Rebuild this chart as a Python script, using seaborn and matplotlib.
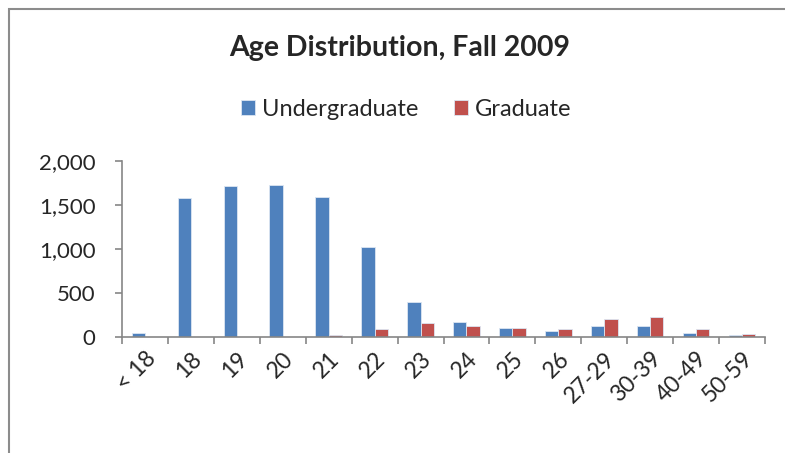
import pandas as pd
import matplotlib.pyplot as plt
import seaborn as sns
from matplotlib.patches import Rectangle
from matplotlib.ticker import FuncFormatter

# Datos
grupos = ['< 18', '18', '19', '20', '21', '22', '23', '24', '25', '26',
          '27-29', '30-39', '40-49', '50-59']
undergrad = [45, 1576, 1720, 1727, 1595, 1027, 394, 170, 99, 68, 128, 128, 45, 19]
graduate = [0, 0, 0, 0, 20, 91, 155, 128, 106, 91, 205, 231, 91, 34]

data = pd.DataFrame({
    'Edad': grupos * 2,
    'Alumnos': undergrad + graduate,
    'Nivel': ['Undergraduate'] * len(grupos) + ['Graduate'] * len(grupos),
})

sns.set_style('white')
plt.rcParams['font.family'] = ['Lato', 'DejaVu Sans']

fig = plt.figure(figsize=(7.85, 4.53), dpi=100)
ax = fig.add_axes([122 / 785, 1 - 337 / 453, (765 - 122) / 785, (337 - 161) / 453])

sns.barplot(x='Edad', y='Alumnos', hue='Nivel', data=data, ax=ax,
            palette=['#4F81BD', '#C0504D'], width=0.58,
            edgecolor='#dce6f2', linewidth=0.6, saturation=1)

ax.set_ylim(0, 2000)
ax.set_yticks([0, 500, 1000, 1500, 2000])
ax.yaxis.set_major_formatter(FuncFormatter(lambda v, p: f'{int(v):,}'))
ax.set_xlim(-0.5, len(grupos) - 0.5)
ax.set_xlabel('')
ax.set_ylabel('')

# ticks entre categorias
ax.set_xticks([i - 0.5 for i in range(len(grupos) + 1)], minor=True)
ax.tick_params(axis='x', which='minor', length=5, width=1.2, color='#868686', direction='out', bottom=True)
ax.tick_params(axis='x', which='major', length=0, labelsize=16.5, pad=8)
ax.tick_params(axis='y', length=5, width=1.2, color='#868686', direction='out', left=True,
               labelsize=16, pad=14)
plt.setp(ax.get_xticklabels(), rotation=45, ha='right', rotation_mode='anchor')

for lado in ['top', 'right']:
    ax.spines[lado].set_visible(False)
for lado in ['left', 'bottom']:
    ax.spines[lado].set_color('#868686')
    ax.spines[lado].set_linewidth(1.2)

leg = ax.legend(loc='center', bbox_to_anchor=(406 / 785, 1 - 109 / 453),
                bbox_transform=fig.transFigure, ncol=2, frameon=False,
                fontsize=17, handlelength=0.6, handleheight=0.6,
                columnspacing=1.5, handletextpad=0.3)

fig.text(400 / 785, 1 - 48 / 453, 'Age Distribution, Fall 2009', ha='center', va='center',
         fontsize=20.5, fontweight='bold')

# borde del area del grafico
fig.patches.append(Rectangle((9 / 785, -0.1), 1.2, 1 - 9 / 453 + 0.1, transform=fig.transFigure,
                             fill=False, edgecolor='#8c8c8c', linewidth=1.5))

fig.savefig('out.png', dpi=100)
